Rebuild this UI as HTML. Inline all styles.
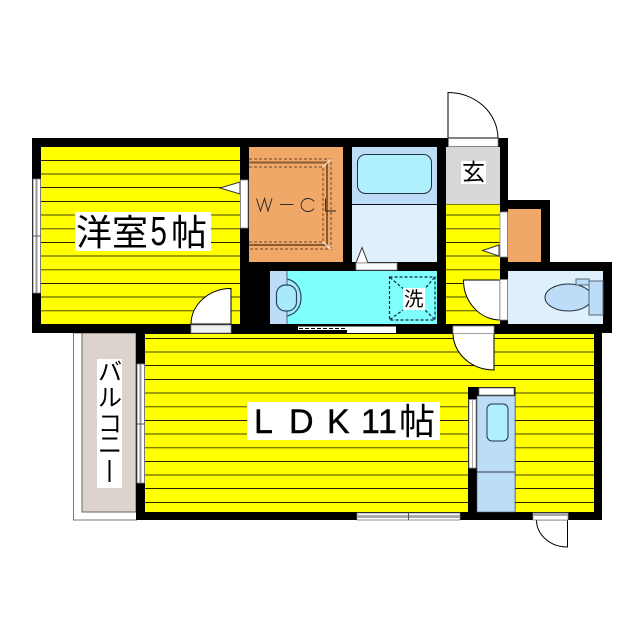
<!DOCTYPE html>
<html><head><meta charset="utf-8"><style>
html,body{margin:0;padding:0;background:#fff}
svg{display:block}
text{font-family:"Liberation Sans","Noto Sans CJK JP",sans-serif;fill:#000}
</style></head><body>
<svg width="640" height="640" viewBox="0 0 640 640" xmlns="http://www.w3.org/2000/svg">
<rect width="640" height="640" fill="#fff"/>
<!-- balcony -->
<rect x="73.5" y="333" width="63" height="187" fill="#fff" stroke="#777" stroke-width="1"/>
<rect x="82" y="333" width="54" height="179" fill="#dcd4cc" stroke="#666" stroke-width="1"/>
<!-- wall silhouette -->
<path d="M32 138H508V200H550V262H612V333H602V520H136V333H32Z" fill="#000"/>
<!-- rooms -->
<rect x="41" y="147" width="199" height="177" fill="#ff0"/>
<rect x="249" y="147" width="94" height="115" fill="#f0a868"/>
<rect x="352" y="147" width="85" height="57" fill="#bcdcf8"/>
<rect x="352" y="204" width="85" height="58" fill="#def0fc"/>
<path d="M352 204.500H437" stroke="#111" stroke-width="1"/>
<rect x="446" y="147" width="54" height="57" fill="#d8d8d8"/>
<rect x="446" y="204.500" width="54" height="119.500" fill="#ff0"/>
<rect x="508" y="209" width="33" height="53" fill="#f0a868"/>
<rect x="508" y="271" width="95" height="53" fill="#def0fc"/>
<rect x="270" y="271" width="17" height="53" fill="#bcdcf8"/>
<rect x="287" y="271" width="150" height="53" fill="#80ffff"/>
<rect x="145" y="334" width="449" height="178" fill="#ff0"/>
<!-- stripes -->
<g stroke-width="1" fill="none">
<g stroke="#222200">
<path d="M41 160.500H240M41 187.500H240M41 201.500H240M41 242.500H240M41 283.500H240"/>
<path d="M446 242.500H500M446 283.500H500"/>
<path d="M145 338.500H594M145 365.500H594M145 379.500H594M145 420.500H594M145 461.500H594M145 502.500H594M145 488.500H594"/>
</g>
<g stroke="#808000" stroke-width="1.400">
<path d="M41 174H240M41 215H240M41 228.700H240M41 256H240M41 269.700H240M41 297H240M41 310.700H240"/>
<path d="M446 215H500M446 228.700H500M446 256H500M446 269.700H500M446 297H500M446 310.700H500"/>
<path d="M145 352H594M145 393H594M145 406.700H594M145 434H594M145 447.700H594M145 475H594"/>
</g>
</g>
<!-- fridge block -->
<rect x="468" y="387" width="47.500" height="125" fill="#000"/>
<rect x="477" y="396" width="38" height="116" fill="#bcdcf8" stroke="#556" stroke-width=".6"/>
<path d="M477 472H515" stroke="#334" stroke-width="1"/>
<rect x="487" y="404" width="21" height="37" rx="5" fill="#b0f0fc" stroke="#234" stroke-width="1"/>
<rect x="479" y="388" width="35" height="7" fill="#fff" stroke="#777" stroke-width=".8"/>
<rect x="469" y="399.500" width="7" height="68.500" fill="#fff" stroke="#888" stroke-width=".8"/>
<path d="M472.500 400V468" stroke="#aaa" stroke-width="1"/>
<!-- windows -->
<g fill="#fff" stroke="#777" stroke-width=".8">
<rect x="33" y="179" width="7.500" height="114"/>
<rect x="137" y="364" width="7.500" height="119"/>
<rect x="357" y="513" width="103" height="7"/>
</g>
<path d="M36.500 179V293M140.500 364V483" stroke="#999" stroke-width="2"/>
<path d="M33 236H41M137 424H145" stroke="#555" stroke-width="1"/>
<path d="M357 516.500H460" stroke="#aaa" stroke-width="3"/>
<path d="M408.500 513V520" stroke="#555" stroke-width="1"/>
<!-- WCL shelf -->
<g fill="none" stroke="#8c5a30">
<path d="M249 162.500H327V245H249" stroke-width="2"/>
<path d="M249 159H331V249H249M249 167H323V242H249" stroke-width="1.300" stroke-dasharray="3 2"/>
</g>
<g stroke="#eee" stroke-width="1.200"><path d="M323 167L331 159M323 242L331 249"/></g>
<g fill="none" stroke="#222" stroke-width=".9">
<path d="M256.500 198.500L260.500 211L264.500 198.500L268 211L272 198.500"/>
<path d="M280 204.500H293.500"/>
<path d="M314 201.500A7 6.500 0 1 0 314 208.500"/>
<path d="M325.500 198.500V211H336"/>
</g>
<!-- doors -->
<g fill="#fff" stroke="#000" stroke-width="1">
<path d="M448 138V92.500A50 46 0 0 1 498 138Z"/>
<path d="M231 324V288.500A40 36 0 0 0 191 324Z"/>
<path d="M500 280H463.500A37 40 0 0 0 500 320Z"/>
<path d="M494 333V370A41 37 0 0 1 453 333Z"/>
<path d="M567.500 520V547A31 27 0 0 1 536.500 520Z"/>
<path d="M220 188L240 182V194Z" stroke="#333"/>
<path d="M482.500 250.500L499 245V256Z" stroke="#333"/>
<path d="M362 247.500L356 263H368Z" stroke="#333"/>
</g>
<g fill="#fff" stroke="#888" stroke-width=".8">
<rect x="448.500" y="138.500" width="49.500" height="8"/>
<rect x="191" y="325" width="40" height="8" fill="#f0f0f0"/>
<rect x="453" y="326" width="41" height="7.500"/>
<rect x="533" y="513" width="35" height="7"/>
<rect x="240.500" y="180" width="7.500" height="48"/>
<rect x="500" y="212" width="7.500" height="45"/>
<rect x="500" y="279.500" width="7.500" height="40.500"/>
<rect x="356" y="263" width="41" height="7"/>
</g>
<rect x="533" y="513" width="35" height="3" fill="#aaa"/>
<!-- sliding door wash -->
<rect x="298" y="326.500" width="98" height="3.500" fill="#fff"/>
<rect x="347" y="330" width="49" height="3" fill="#fff"/>
<path d="M299 328.500H346" stroke="#000" stroke-width="1" stroke-dasharray="4 2"/>
<!-- tub -->
<rect x="357.500" y="154.500" width="74" height="39" rx="8" fill="#b0f0fc" stroke="#234" stroke-width="1"/>
<!-- basin -->
<path d="M287 279C296 281 301 288 301 297.500C301 307 296 314 287 316" fill="#a8eafc" stroke="#246" stroke-width="1.200"/>
<path d="M287 271V324" stroke="#567" stroke-width="1"/>
<rect x="276.500" y="285" width="20" height="26" rx="9" fill="#a8eafc" stroke="#246" stroke-width="1.200"/>
<!-- washer -->
<rect x="389.500" y="277" width="45.500" height="43" fill="none" stroke="#124" stroke-width="1.200" stroke-dasharray="3 2"/>
<path d="M390 277.500L403 288.500M434.500 277.500L425 288.500M390 319.500L403 310M434.500 319.500L425 310" stroke="#124" stroke-width="1.200" stroke-dasharray="3 2"/>
<rect x="403" y="288" width="22" height="22" fill="#fff"/>
<text x="404" y="305.500" font-size="19.500">洗</text>
<!-- toilet -->
<ellipse cx="568.500" cy="297.500" rx="23.500" ry="13.500" fill="#bcdcf8" stroke="#234" stroke-width="1"/>
<rect x="589" y="281" width="14" height="34" fill="#bcdcf8" stroke="#567" stroke-width="1"/>
<rect x="576" y="279" width="13" height="6" fill="#bcdcf8" stroke="#567" stroke-width="1"/>
<!-- labels -->
<rect x="461" y="161" width="25" height="23" fill="#fff"/>
<text x="462" y="180" font-size="23">玄</text>
<rect x="75" y="212" width="136" height="39" fill="#fff"/>
<text x="76" y="245" font-size="36">洋室</text>
<text transform="translate(150.500 245) scale(.72 1)" font-size="41">5</text>
<text x="171" y="245" font-size="36">帖</text>
<rect x="97" y="359" width="25" height="129" fill="#fff"/>
<g font-size="24" text-anchor="middle">
<text x="110" y="380">バ</text>
<text x="110" y="406">ル</text>
<text x="110" y="432">コ</text>
<text x="110" y="453">ニ</text>
</g>
<path d="M109.500 460V482" stroke="#000" stroke-width="2"/>
<rect x="247" y="402" width="193" height="38" fill="#fff"/>
<g font-size="34" stroke="#000" stroke-width=".4">
<text x="254" y="433">L</text>
<text x="289" y="433">D</text>
<text x="327" y="433">K</text>
<text x="361" y="433">1</text>
<text x="378" y="433">1</text>
</g>
<text x="399" y="434" font-size="36">帖</text>
</svg>
</body></html>
